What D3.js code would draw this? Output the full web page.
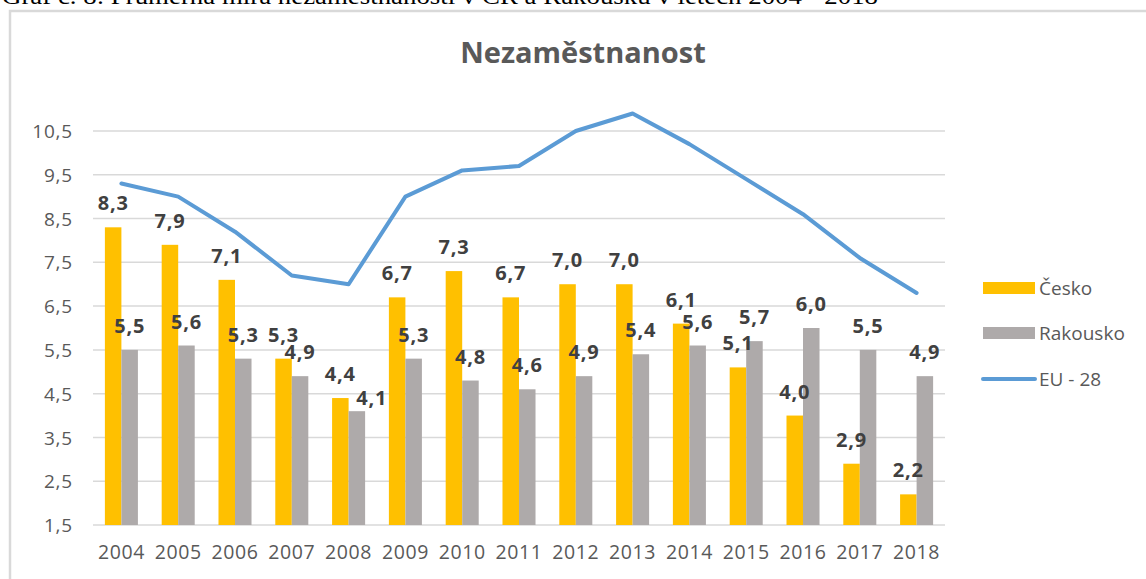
<!DOCTYPE html>
<html>
<head>
<meta charset="utf-8">
<script src="https://cdn.jsdelivr.net/npm/d3@7"></script>
<style>
  html, body { margin: 0; padding: 0; background: #fff; overflow: hidden; }
</style>
</head>
<body>
<div id="chart"></div>
<script>
// data
const years = ["2004", "2005", "2006", "2007", "2008", "2009", "2010", "2011", "2012", "2013", "2014", "2015", "2016", "2017", "2018"];
const cesko = [8.3, 7.9, 7.1, 5.3, 4.4, 6.7, 7.3, 6.7, 7.0, 7.0, 6.1, 5.1, 4.0, 2.9, 2.2];
const rakousko = [5.5, 5.6, 5.3, 4.9, 4.1, 5.3, 4.8, 4.6, 4.9, 5.4, 5.6, 5.7, 6.0, 5.5, 4.9];
const eu28 = [9.3, 9.0, 8.2, 7.2, 7.0, 9.0, 9.6, 9.7, 10.5, 10.9, 10.2, 9.4, 8.6, 7.6, 6.8];
const yTicks = [1.5, 2.5, 3.5, 4.5, 5.5, 6.5, 7.5, 8.5, 9.5, 10.5];
const seriesNames = ["Česko", "Rakousko"];
const caption = "Graf č. 8: Průměrná míra nezaměstnanosti v ČR a Rakousku v letech 2004 - 2018";

const width = 1146, height = 579;
const colors = { "Česko": "#ffc000", "Rakousko": "#aeaaaa" };
const lineColor = "#5b9bd5";
const font = "'Open Sans', sans-serif";

const svg = d3.select("#chart")
    .append("svg")
    .attr("width", width)
    .attr("height", height);

// caption above the frame (cut off at the top)
svg.append("text")
    .attr("x", 2)
    .attr("y", 4)
    .attr("font-family", "'Liberation Serif', 'Times New Roman', serif")
    .attr("font-size", 24)
    .attr("textLength", 876)
    .attr("lengthAdjust", "spacingAndGlyphs")
    .style("fill", "#000")
    .text(caption);

// chart frame
svg.append("rect")
    .attr("x", 10)
    .attr("y", 11)
    .attr("width", 1160)
    .attr("height", 600)
    .attr("fill", "#fff")
    .style("stroke", "#d9d9d9")
    .style("stroke-width", 2.5);

// title
svg.append("text")
    .attr("x", 583)
    .attr("y", 63)
    .attr("text-anchor", "middle")
    .attr("font-family", font)
    .attr("font-size", 29)
    .attr("font-weight", 700)
    .style("fill", "#595959")
    .text("Nezaměstnanost");

// scales
const x0 = d3.scaleBand()
    .domain(years)
    .range([93, 945]);

const x1 = d3.scaleBand()
    .domain(seriesNames)
    .range([0, x0.bandwidth()])
    .paddingOuter(0.72);

const y = d3.scaleLinear()
    .domain([1.5, 10.5])
    .range([525, 131]);

// gridlines
svg.append("g")
    .selectAll("line")
    .data(yTicks)
    .enter()
    .append("line")
    .attr("x1", 93)
    .attr("x2", 945)
    .attr("y1", d => y(d))
    .attr("y2", d => y(d))
    .style("stroke", "#d9d9d9")
    .style("stroke-width", 1.5);

// y axis labels
const fmt = v => d3.format(".1f")(v).replace(".", ",");
const yAxis = svg.append("g")
    .attr("transform", "translate(93,0)")
    .call(d3.axisLeft(y).tickValues(yTicks).tickFormat(fmt).tickSize(0).tickPadding(20));
yAxis.select(".domain").remove();
yAxis.selectAll("text")
    .attr("font-family", font)
    .attr("font-size", 19)
    .attr("letter-spacing", 0.8)
    .attr("dy", "0.35em")
    .style("fill", "#595959");

// x axis labels
const xAxis = svg.append("g")
    .attr("transform", "translate(0,525)")
    .call(d3.axisBottom(x0).tickSize(0).tickPadding(20));
xAxis.select(".domain").remove();
xAxis.selectAll("text")
    .attr("font-family", font)
    .attr("font-size", 19.5)
    .attr("letter-spacing", 0.6)
    .style("fill", "#595959");

// bars
const rows = years.map((yr, i) => ({ year: yr, "Česko": cesko[i], "Rakousko": rakousko[i] }));
const groups = svg.append("g")
    .selectAll("g")
    .data(rows)
    .enter()
    .append("g")
    .attr("transform", d => "translate(" + x0(d.year) + ",0)");

groups.selectAll("rect")
    .data(d => seriesNames.map(k => ({ key: k, value: d[k], year: d.year })))
    .enter()
    .append("rect")
    .attr("x", d => x1(d.key))
    .attr("width", x1.bandwidth())
    .attr("y", d => y(d.value))
    .attr("height", d => y(1.5) - y(d.value))
    .attr("fill", d => colors[d.key]);

// EU line
const valueline = d3.line()
    .x((d, i) => x0(years[i]) + x0.bandwidth() / 2)
    .y(d => y(d));

svg.append("path")
    .attr("d", valueline(eu28))
    .attr("fill", "none")
    .attr("stroke", lineColor)
    .attr("stroke-width", 4)
    .attr("stroke-linejoin", "round")
    .attr("stroke-linecap", "round");

// data labels (the 2008 Rakousko label was nudged aside in the original)
const nudged = d => d.key === "Rakousko" && d.year === "2008";
groups.selectAll(".lbl")
    .data(d => seriesNames.map(k => ({ key: k, value: d[k], year: d.year })))
    .enter()
    .append("text")
    .attr("class", "lbl")
    .attr("x", d => x1(d.key) + x1.bandwidth() / 2 + (nudged(d) ? 15 : 0))
    .attr("y", d => y(d.value) - (nudged(d) ? 6 : 17))
    .attr("text-anchor", "middle")
    .attr("font-family", font)
    .attr("font-size", 20)
    .attr("font-weight", 700)
    .attr("letter-spacing", 0.8)
    .style("fill", "#404040")
    .text(d => fmt(d.value));

// legend
const legend = svg.append("g");
const legendItems = [
    { name: "Česko", type: "bar", y: 288 },
    { name: "Rakousko", type: "bar", y: 333 },
    { name: "EU - 28", type: "line", y: 379 }
];
legendItems.forEach(it => {
    if (it.type === "bar") {
        legend.append("rect")
            .attr("x", 983)
            .attr("y", it.y - 6)
            .attr("width", 52)
            .attr("height", 12)
            .attr("fill", colors[it.name]);
    } else {
        legend.append("line")
            .attr("x1", 983)
            .attr("x2", 1035)
            .attr("y1", it.y)
            .attr("y2", it.y)
            .attr("stroke", lineColor)
            .attr("stroke-width", 4)
            .attr("stroke-linecap", "round");
    }
    legend.append("text")
        .attr("x", 1039)
        .attr("y", it.y)
        .attr("dy", "0.35em")
        .attr("font-family", font)
        .attr("font-size", 19)
        .style("fill", "#595959")
        .text(it.name);
});
</script>
</body>
</html>
